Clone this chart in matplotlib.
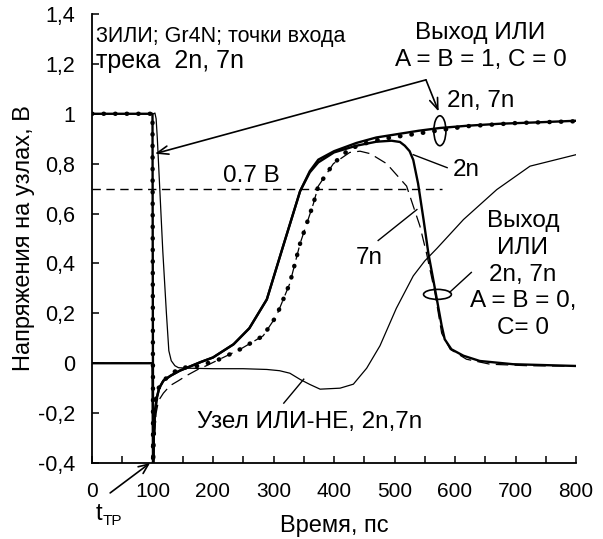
import matplotlib
matplotlib.use("Agg")
import matplotlib.pyplot as plt
from matplotlib.patches import Ellipse
from matplotlib.ticker import MultipleLocator

plt.rcParams['font.family'] = ['Liberation Sans', 'DejaVu Sans']

# --- data (time in ps, voltage in V) ---

# Выход ИЛИ, A = B = 1, C = 0, track point 2n (thick solid)
t_or1_2n = [0, 100, 101, 102, 104, 107, 111, 118, 130, 145, 160, 180, 200, 234, 260, 289,
            316, 344, 360, 374, 400, 437, 470, 509, 540, 575, 620, 674, 740, 800]
v_or1_2n = [1.0, 1.0, -0.4, -0.3, -0.2, -0.14, -0.1, -0.07, -0.05, -0.03, -0.015, 0.005, 0.023,
            0.076, 0.14, 0.256, 0.47, 0.69, 0.77, 0.816, 0.85, 0.883, 0.905, 0.92, 0.932, 0.943,
            0.952, 0.96, 0.966, 0.972]

# Выход ИЛИ, A = B = 1, C = 0, track point 7n (dotted)
t_or1_7n = [0, 100, 101, 103, 106, 110, 118, 130, 145, 178, 211, 245, 283, 305, 327, 344, 366,
            374, 399, 426, 454, 481, 509, 564, 619, 702, 800]
v_or1_7n = [1.0, 1.0, -0.4, -0.2, -0.14, -0.1, -0.07, -0.045, -0.02, -0.01, 0.016, 0.056, 0.11,
            0.19, 0.32, 0.48, 0.64, 0.71, 0.80, 0.86, 0.883, 0.90, 0.91, 0.93, 0.95, 0.963, 0.97]

# Выход ИЛИ, A = B = 0, C = 0, track point 2n (thick solid)
t_or0_2n = [0, 100, 101, 102, 104, 107, 111, 118, 130, 145, 160, 180, 200, 234, 260, 289, 316,
            344, 360, 374, 400, 437, 470, 495, 509, 517, 525, 531, 539, 548, 556, 564, 572, 578,
            583, 594, 614, 641, 696, 800]
v_or0_2n = [0.0, 0.0, -0.4, -0.3, -0.2, -0.14, -0.1, -0.07, -0.05, -0.03, -0.015, 0.005, 0.023,
            0.076, 0.14, 0.256, 0.47, 0.69, 0.765, 0.805, 0.845, 0.872, 0.888, 0.892, 0.887,
            0.872, 0.85, 0.815, 0.72, 0.576, 0.44, 0.336, 0.23, 0.15, 0.096, 0.056, 0.03, 0.009,
            -0.004, -0.011]

# Выход ИЛИ, A = B = 0, C = 0, track point 7n (dashed)
t_or0_7n = [0, 100, 101, 103, 106, 110, 118, 129, 143, 156, 175, 189, 211, 245, 283, 305, 327,
            344, 366, 374, 399, 426, 443, 460, 487, 520, 531, 542, 553, 567, 578, 592, 619, 658,
            720, 800]
v_or0_7n = [0.0, 0.0, -0.4, -0.3, -0.2, -0.15, -0.12, -0.09, -0.07, -0.05, -0.025, -0.01, 0.016,
            0.056, 0.11, 0.19, 0.32, 0.48, 0.64, 0.71, 0.80, 0.845, 0.85, 0.84, 0.80, 0.71, 0.63,
            0.55, 0.44, 0.28, 0.12, 0.056, 0.016, -0.004, -0.01, -0.012]

# Узел ИЛИ-НЕ, 2n, 7n (thin solid)
t_nor = [0, 100, 102, 104, 106, 108, 112, 117, 123, 127, 131, 137, 143, 160, 200, 250, 289, 310,
         327, 344, 360, 377, 410, 432, 454, 476, 503, 531, 550, 570, 614, 669, 724, 800]
v_nor = [1.0, 1.0, 1.0, 1.003, 0.98, 0.9, 0.70, 0.45, 0.20, 0.05, 0.01, -0.01, -0.018, -0.02,
         -0.022, -0.022, -0.025, -0.03, -0.04, -0.065, -0.085, -0.104, -0.10, -0.084, -0.02,
         0.07, 0.22, 0.35, 0.41, 0.46, 0.576, 0.696, 0.79, 0.836]

level_07 = 0.7
x_ticks = [0, 100, 200, 300, 400, 500, 600, 700, 800]
y_ticks = [-0.4, -0.2, 0, 0.2, 0.4, 0.6, 0.8, 1.0, 1.2, 1.4]
y_ticklabels = ['-0,4', '-0,2', '0', '0,2', '0,4', '0,6', '0,8', '1', '1,2', '1,4']

fig = plt.figure(figsize=(6.03, 5.39), dpi=100)
ax = fig.add_axes([92 / 603, 1 - 463 / 539, 484 / 603, 449 / 539])

ax.plot(t_nor, v_nor, color='black', lw=0.9)
ax.plot(t_or0_7n, v_or0_7n, color='black', lw=0.9, linestyle=(0, (10, 5)))
ax.plot(t_or1_7n, v_or1_7n, color='black', lw=3.2, linestyle=(0, (0.1, 2.5)),
        dash_capstyle='round')
ax.plot(t_or0_2n, v_or0_2n, color='black', lw=1.7)
ax.plot(t_or1_2n, v_or1_2n, color='black', lw=1.7)

ax.plot([0, 578], [level_07, level_07], color='black', lw=1.0, linestyle=(0, (6, 4)))

ax.set_xlim(0, 800)
ax.set_ylim(-0.4, 1.4)
ax.set_xticks(x_ticks)
ax.xaxis.set_minor_locator(MultipleLocator(50))
ax.set_yticks(y_ticks)
ax.set_yticklabels(y_ticklabels)
ax.tick_params(axis='both', which='both', direction='in', length=5, width=1.1, labelsize=15)
ax.tick_params(axis='y', labelsize=15.5)
ax.tick_params(axis='x', pad=14)
ax.tick_params(axis='y', pad=12)
for side in ('top', 'right'):
    ax.spines[side].set_visible(False)
for side in ('left', 'bottom'):
    ax.spines[side].set_linewidth(1.3)

ax.set_xlabel('Время, пс', fontsize=17)
ax.set_ylabel('Напряжения на узлах, В', fontsize=17)
ax.xaxis.set_label_coords(0.5, -0.115)
ax.yaxis.set_label_coords(-0.117, 0.5)

# annotations
ax.text(6, 1.31, '3ИЛИ; Gr4N; точки входа', fontsize=15.5, va='center', ha='left')
ax.text(6, 1.21, 'трека  2n, 7n', fontsize=18, va='center', ha='left')

ax.text(642, 1.27, 'Выход ИЛИ\nA = B = 1, C = 0', fontsize=17.5, ha='center', va='center',
        linespacing=1.3)
ax.text(587, 1.052, '2n, 7n', fontsize=17.5, ha='left', va='center')
ax.add_patch(Ellipse((575, 0.932), 20, 0.12, fill=False, lw=1.2, color='black'))

arrow = dict(arrowstyle='->,head_length=0.8,head_width=0.3', lw=1.2, color='black',
             shrinkA=0, shrinkB=0)
ax.annotate('', xy=(104, 0.84), xytext=(552, 1.136), arrowprops=arrow)
ax.annotate('', xy=(573, 1.009), xytext=(552, 1.136), arrowprops=arrow)

ax.text(263, 0.752, '0.7 В', fontsize=17.5, ha='center', va='center')

ax.text(597, 0.776, '2n', fontsize=17.5, ha='left', va='center')
ax.plot([531, 587], [0.836, 0.784], color='black', lw=1.0)

ax.text(459, 0.422, '7n', fontsize=17.5, ha='center', va='center')
ax.plot([473, 537], [0.492, 0.616], color='black', lw=1.0)

ax.text(712, 0.355, 'Выход\nИЛИ\n2n, 7n\nA = B = 0,\nC= 0', fontsize=17.5, ha='center',
        va='center', linespacing=1.27)
ax.add_patch(Ellipse((571, 0.276), 46, 0.04, fill=False, lw=1.2, color='black'))
ax.plot([591, 627], [0.284, 0.364], color='black', lw=1.0)

ax.text(359, -0.236, 'Узел ИЛИ-НЕ, 2n,7n', fontsize=17.5, ha='center', va='center')
ax.plot([317, 350], [-0.16, -0.064], color='black', lw=1.0)

# t_TP marker below the axis
ax.text(6, -0.605, 't', fontsize=17, ha='left', va='center')
ax.text(18, -0.633, 'ТР', fontsize=11, ha='left', va='center')
ax.annotate('', xy=(96, -0.4), xytext=(30, -0.52), annotation_clip=False,
            arrowprops=dict(arrowstyle='->,head_length=0.7,head_width=0.3', lw=1.2,
                            color='black', shrinkA=0, shrinkB=0))

fig.savefig('out.png', dpi=100)
